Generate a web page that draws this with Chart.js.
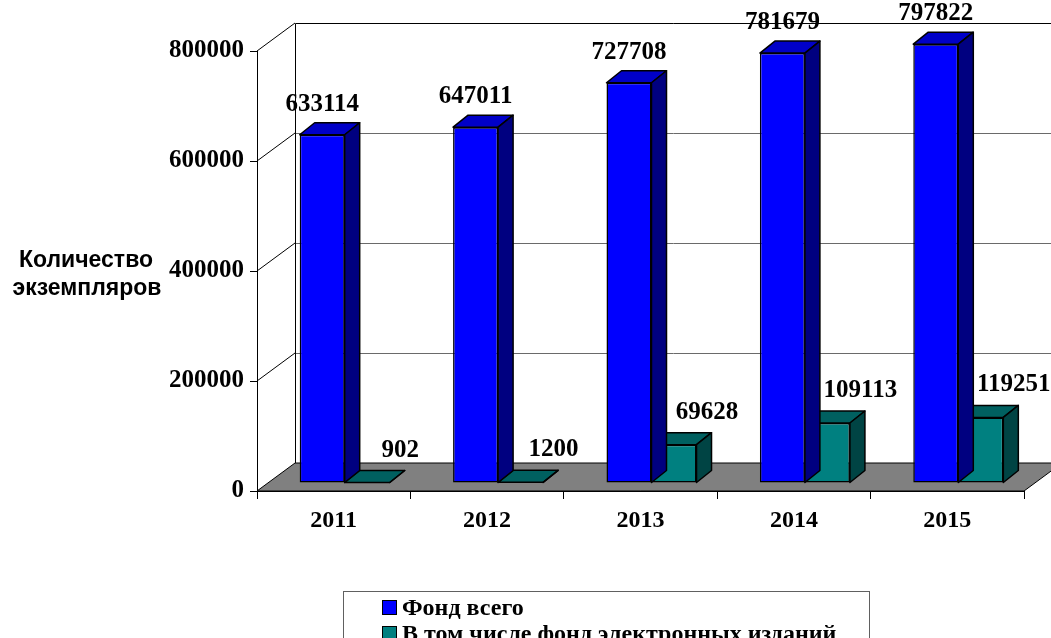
<!DOCTYPE html>
<html>
<head>
<meta charset="utf-8">
<script src="https://cdn.jsdelivr.net/npm/chart.js@4/dist/chart.umd.min.js"></script>
<style>
  html, body { margin: 0; padding: 0; background: #ffffff; }
  #wrap { position: relative; width: 1051px; height: 638px; }
</style>
</head>
<body>
<div id="wrap"><canvas id="chart"></canvas></div>
<script>
// data
const years = ['2011', '2012', '2013', '2014', '2015'];
const fondTotal = [633114, 647011, 727708, 781679, 797822];
const fondElectronic = [902, 1200, 69628, 109113, 119251];
const yTicks = [0, 200000, 400000, 600000, 800000];
const seriesNames = ['Фонд всего', 'В том числе фонд электронных изданий'];
const yTitle = ['Количество', 'экземпляров'];

// 3D look (pixels)
const WALL_DX = 38, WALL_DY = -28;   // depth of the floor / walls
const BAR_DX = 11, BAR_DY = -8;      // bars stand a bit back from the front edge
const DEPTH_DX = 15, DEPTH_DY = -12; // depth of a single bar

const serif = '"Liberation Serif", "Times New Roman", serif';

const scene3d = {
    id: 'scene3d',
    beforeDatasetsDraw(chart) {
        const { ctx, chartArea } = chart;
        const y = chart.scales.y;
        const x0 = chartArea.left, x1 = chartArea.right;
        const y0 = y.getPixelForValue(0);
        const yTop = y.getPixelForValue(yTicks[yTicks.length - 1]);

        ctx.save();
        ctx.lineWidth = 1;

        // back wall gridlines
        ctx.strokeStyle = '#6a6a6a';
        yTicks.slice(1, -1).forEach(v => {
            const py = Math.round(y.getPixelForValue(v) + WALL_DY) + 0.5;
            ctx.beginPath();
            ctx.moveTo(x0 + WALL_DX, py);
            ctx.lineTo(x1 + WALL_DX, py);
            ctx.stroke();
        });

        // left wall diagonals
        ctx.strokeStyle = '#000';
        yTicks.slice(1).forEach(v => {
            const py = y.getPixelForValue(v);
            ctx.beginPath();
            ctx.moveTo(x0, py);
            ctx.lineTo(x0 + WALL_DX, py + WALL_DY);
            ctx.stroke();
        });

        // back wall frame
        const bx = Math.round(x0 + WALL_DX) + 0.5;
        const by = Math.round(yTop + WALL_DY) + 0.5;
        ctx.beginPath();
        ctx.moveTo(bx, y0 + WALL_DY);
        ctx.lineTo(bx, by);
        ctx.lineTo(x1 + WALL_DX, by);
        ctx.stroke();

        // floor
        ctx.beginPath();
        ctx.moveTo(x0, y0);
        ctx.lineTo(x0 + WALL_DX, y0 + WALL_DY);
        ctx.lineTo(x1 + WALL_DX, y0 + WALL_DY);
        ctx.lineTo(x1, y0);
        ctx.closePath();
        ctx.fillStyle = '#808080';
        ctx.fill();
        ctx.strokeStyle = '#000';
        ctx.stroke();
        ctx.restore();
    },
    beforeDatasetDraw(chart) {
        chart.ctx.save();
        chart.ctx.translate(BAR_DX, BAR_DY);
    },
    afterDatasetDraw(chart, args) {
        const ctx = chart.ctx;
        const ds = chart.data.datasets[args.index];
        ctx.lineWidth = 1.5;
        ctx.strokeStyle = '#000';
        ctx.lineJoin = 'round';
        args.meta.data.forEach(bar => {
            const { x, y, base, width } = bar.getProps(['x', 'y', 'base', 'width'], true);
            const l = x - width / 2, r = x + width / 2;
            // top face
            ctx.beginPath();
            ctx.moveTo(l, y);
            ctx.lineTo(l + DEPTH_DX, y + DEPTH_DY);
            ctx.lineTo(r + DEPTH_DX, y + DEPTH_DY);
            ctx.lineTo(r, y);
            ctx.closePath();
            ctx.fillStyle = ds.topColor;
            ctx.fill();
            ctx.stroke();
            // side face
            ctx.beginPath();
            ctx.moveTo(r, y);
            ctx.lineTo(r + DEPTH_DX, y + DEPTH_DY);
            ctx.lineTo(r + DEPTH_DX, base + DEPTH_DY);
            ctx.lineTo(r, base);
            ctx.closePath();
            ctx.fillStyle = ds.sideColor;
            ctx.fill();
            ctx.stroke();
        });
        ctx.restore();
    },
    afterDatasetsDraw(chart) {
        const ctx = chart.ctx;
        ctx.save();
        ctx.font = 'bold 25px ' + serif;
        ctx.fillStyle = '#000';
        ctx.textAlign = 'center';
        ctx.textBaseline = 'alphabetic';
        chart.data.datasets.forEach((ds, i) => {
            chart.getDatasetMeta(i).data.forEach((bar, j) => {
                const px = bar.x + BAR_DX + ds.labelShift;
                const py = bar.y + BAR_DY + DEPTH_DY - ds.labelLift;
                ctx.fillText(String(ds.data[j]), px, py);
            });
        });
        ctx.restore();
    },
    afterDraw(chart) {
        const ctx = chart.ctx;
        ctx.save();
        // axis title, horizontal on two lines
        ctx.font = 'bold 23px "Liberation Sans", Arial, sans-serif';
        ctx.fillStyle = '#000';
        ctx.textAlign = 'center';
        ctx.textBaseline = 'alphabetic';
        ctx.fillText(yTitle[0], 86, 267);
        ctx.fillText(yTitle[1], 87, 295);

        // legend box
        ctx.strokeStyle = '#606060';
        ctx.lineWidth = 1;
        ctx.strokeRect(343.5, 591.5, 526, 80);
        ctx.font = 'bold 24px ' + serif;
        ctx.textAlign = 'left';
        chart.data.datasets.forEach((ds, i) => {
            const top = 600 + i * 26;
            ctx.fillStyle = ds.backgroundColor;
            ctx.fillRect(382, top, 14, 14);
            ctx.strokeStyle = '#000';
            ctx.strokeRect(382.5, top + 0.5, 14, 14);
            ctx.fillStyle = '#000';
            ctx.fillText(ds.label, 402, top + 15);
        });
        ctx.restore();
    }
};

new Chart(document.getElementById('chart'), {
    type: 'bar',
    data: {
        labels: years,
        datasets: [
            {
                label: seriesNames[0],
                data: fondTotal,
                backgroundColor: '#0000ff',
                topColor: '#0000c8',
                sideColor: '#000080',
                borderColor: '#000',
                borderWidth: 1.5,
                borderSkipped: false,
                labelShift: 0,
                labelLift: 12
            },
            {
                label: seriesNames[1],
                data: fondElectronic,
                backgroundColor: '#008080',
                topColor: '#006060',
                sideColor: '#004444',
                borderColor: '#000',
                borderWidth: 1.5,
                borderSkipped: false,
                labelShift: 33,
                labelLift: 14
            }
        ]
    },
    options: {
        responsive: true,
        maintainAspectRatio: false,
        animation: false,
        clip: false,
        categoryPercentage: 0.587,
        barPercentage: 1.0,
        layout: {
            padding: { top: 51, right: 27, left: 0, bottom: 0 }
        },
        plugins: {
            legend: { display: false },
            tooltip: { enabled: false }
        },
        scales: {
            x: {
                grid: {
                    offset: true,
                    drawOnChartArea: false,
                    tickLength: 8,
                    color: '#000'
                },
                border: { display: true, color: '#000' },
                ticks: {
                    color: '#000',
                    padding: 7,
                    font: { family: serif, size: 24, weight: 'bold' }
                },
                afterFit(scale) { scale.height = 147; }
            },
            y: {
                min: 0,
                max: 800000,
                afterBuildTicks(scale) {
                    scale.ticks = yTicks.map(v => ({ value: v }));
                },
                grid: {
                    drawOnChartArea: false,
                    tickLength: 7,
                    color: '#000'
                },
                border: { display: true, color: '#000' },
                ticks: {
                    color: '#000',
                    padding: 6,
                    font: { family: serif, size: 25, weight: 'bold' },
                    callback: value => String(value)
                },
                afterFit(scale) { scale.width = 257; }
            }
        }
    },
    plugins: [scene3d]
});
</script>
</body>
</html>
